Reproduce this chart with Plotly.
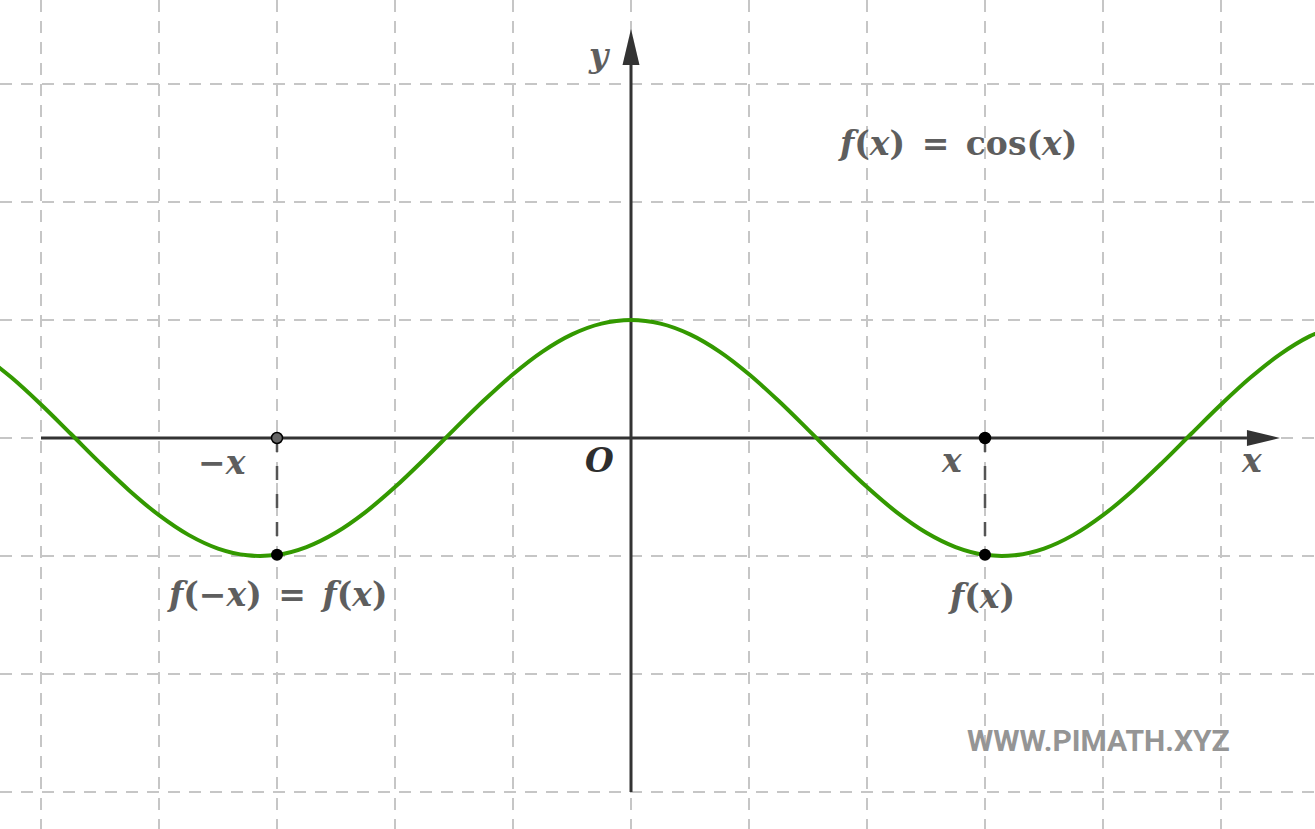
import plotly.graph_objects as go

# cos(x) curve
CURVE_X = [-5.5, -5.25, -5.0, -4.75, -4.5, -4.25, -4.0, -3.75, -3.5, -3.25, -3.0,
           -2.75, -2.5, -2.25, -2.0, -1.75, -1.5, -1.25, -1.0, -0.75, -0.5, -0.25,
           0.0, 0.25, 0.5, 0.75, 1.0, 1.25, 1.5, 1.75, 2.0, 2.25, 2.5, 2.75, 3.0,
           3.25, 3.5, 3.75, 4.0, 4.25, 4.5, 4.75, 5.0, 5.25, 5.5, 5.75, 6.0]
CURVE_Y = [0.709, 0.512, 0.284, 0.038, -0.211, -0.446, -0.654, -0.821, -0.937,
           -0.994, -0.990, -0.924, -0.801, -0.628, -0.416, -0.178, 0.071, 0.315,
           0.540, 0.732, 0.878, 0.969, 1.000, 0.969, 0.878, 0.732, 0.540, 0.315,
           0.071, -0.178, -0.416, -0.628, -0.801, -0.924, -0.990, -0.994, -0.937,
           -0.821, -0.654, -0.446, -0.211, 0.038, 0.284, 0.512, 0.709, 0.861, 0.960]

# marked points: -x, x on the axis and their images
POINT_X = [-3.0, 3.0]
POINT_FX = [-0.990, -0.990]

X_RANGE = [-5.3475, 5.7966]
Y_RANGE = [-3.3136, 3.7119]
X_AXIS = [-5.0, 5.22]   # start of x axis, base of its arrow
Y_AXIS = [-3.0, 3.16]
X_TIP, Y_TIP = 5.5, 3.466

GREEN, AXIS, LABEL, GRID = "#339900", "#333333", "#5e5e5e", "#c6c6c6"
MATH = "DejaVu Serif"
SP = "\u2002"  # wider space around '='

fig = go.Figure()

# axes (under the curve)
fig.add_trace(go.Scatter(x=X_AXIS, y=[0, 0], mode="lines",
                         line=dict(color=AXIS, width=3), hoverinfo="skip"))
fig.add_trace(go.Scatter(x=[0, 0], y=Y_AXIS, mode="lines",
                         line=dict(color=AXIS, width=3), hoverinfo="skip"))

# dashed drop lines from x to f(x)
for px, fy in zip(POINT_X, POINT_FX):
    fig.add_trace(go.Scatter(x=[px, px], y=[0, fy], mode="lines",
                             line=dict(color="#555555", width=2.5, dash="14px,14px"),
                             hoverinfo="skip"))

fig.add_trace(go.Scatter(x=CURVE_X, y=CURVE_Y, mode="lines",
                         line=dict(color=GREEN, width=4, shape="spline"),
                         hoverinfo="skip"))

# points
fig.add_trace(go.Scatter(x=POINT_X, y=[0, 0], mode="markers",
                         marker=dict(size=11, color=["#666666", "#000000"],
                                     line=dict(color="#000000", width=1.5)),
                         hoverinfo="skip"))
fig.add_trace(go.Scatter(x=POINT_X, y=POINT_FX, mode="markers",
                         marker=dict(size=12, color="#000000"), hoverinfo="skip"))

# arrow heads
xb, yb = X_AXIS[1], Y_AXIS[1]
fig.add_shape(type="path", path=f"M {xb} -0.068 L {X_TIP} 0 L {xb} 0.068 Z",
              fillcolor=AXIS, line=dict(width=0))
fig.add_shape(type="path", path=f"M -0.072 {yb} L 0 {Y_TIP} L 0.072 {yb} Z",
              fillcolor=AXIS, line=dict(width=0))


def label(x, y, text, size=33, color=LABEL):
    fig.add_annotation(x=x, y=y, text=text, showarrow=False,
                       font=dict(family=MATH, size=size, color=color),
                       xanchor="center", yanchor="middle")


label(-0.263, 3.24, "<b><i>y</i></b>")
label(-0.263, -0.19, "<b><i>O</i></b>", color="#2e2e2e")
label(5.26, -0.19, "<b><i>x</i></b>")
label(2.72, -0.19, "<b><i>x</i></b>")
label(-3.47, -0.21, "<b>−<i>x</i></b>")
label(2.763, 2.50, f"<b><i>f</i>(<i>x</i>){SP}={SP}cos(<i>x</i>)</b>")
label(-3.0, -1.33, f"<b><i>f</i>(−<i>x</i>){SP}={SP}<i>f</i>(<i>x</i>)</b>")
label(2.97, -1.34, "<b><i>f</i>(<i>x</i>)</b>")

fig.add_annotation(x=3.966, y=-2.56, text="<b>WWW.PIMATH.XYZ</b>", showarrow=False,
                   font=dict(family="Roboto", size=30, color="#959595"))

axis_style = dict(showgrid=True, gridcolor=GRID, gridwidth=2, griddash="12px,9px",
                  dtick=1, tick0=0, zeroline=False, showticklabels=False,
                  ticks="", showline=False, fixedrange=True)
fig.update_xaxes(range=X_RANGE, **axis_style)
fig.update_yaxes(range=Y_RANGE, **axis_style)

fig.update_layout(width=1315, height=829, margin=dict(l=0, r=0, t=0, b=0),
                  paper_bgcolor="white", plot_bgcolor="white", showlegend=False)

fig.write_html("out.html", config={"displayModeBar": False},
               post_script="document.body.style.margin='0';")
